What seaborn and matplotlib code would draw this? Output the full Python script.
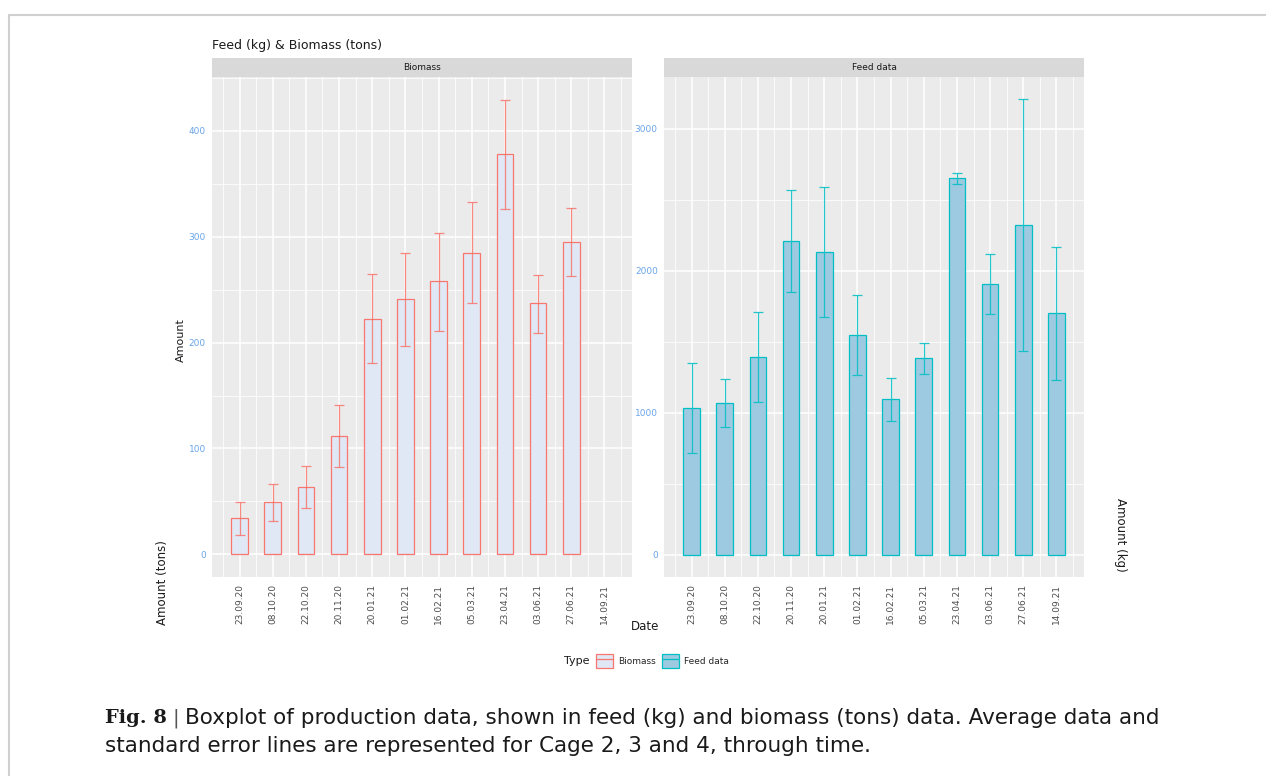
import numpy as np
import pandas as pd
import matplotlib
matplotlib.use("Agg")
import matplotlib.pyplot as plt
import seaborn as sns
from matplotlib.patches import Patch
from matplotlib.lines import Line2D
from matplotlib.legend_handler import HandlerTuple
from matplotlib.ticker import MultipleLocator, FixedLocator

# ---- data ----
dates = ["23.09.20", "08.10.20", "22.10.20", "20.11.20", "20.01.21", "01.02.21",
         "16.02.21", "05.03.21", "23.04.21", "03.06.21", "27.06.21", "14.09.21"]
biomass_mean = [34, 49, 63.5, 111.5, 222, 241, 258, 285, 378, 237, 295, np.nan]
biomass_low = [18, 31, 44, 82, 180.5, 197, 211, 237, 326.5, 209, 263, np.nan]
biomass_high = [49.5, 66.5, 83.5, 141.5, 265, 285, 304, 332.5, 429.5, 264, 327, np.nan]
feed_mean = [1035, 1066, 1394, 2210, 2134, 1547, 1094, 1383, 2653, 1906, 2321, 1700]
feed_low = [716, 897, 1077, 1851, 1677, 1263, 944, 1272, 2613, 1693, 1434, 1230]
feed_high = [1352, 1237, 1709, 2568, 2592, 1832, 1244, 1493, 2691, 2120, 3210, 2170]

sns.set_theme(style="white")
plt.rcParams["font.family"] = ["DejaVu Sans"]

W, H = 1266, 776
fig = plt.figure(figsize=(W / 100, H / 100), dpi=100)

def fx(px):
    return px / W

def fy(py):
    return 1 - py / H

PANEL_BG = "#ebebeb"
TICK_BLUE = "#6aa5ea"
RED = "#f8766d"
CYAN = "#00bfc4"
BIO_FILL = "#dfe8f4"
FEED_FILL = "#9ecae1"

def make_panel(left_px, title, means, lows, highs, fill, edge, ylim, major, minor):
    ax = fig.add_axes([fx(left_px), fy(577), fx(420), (577 - 77) / H])
    df = pd.DataFrame({"Date": dates, "Amount": means})
    sns.barplot(data=df, x="Date", y="Amount", order=dates, color=fill,
                saturation=1, width=0.5, edgecolor=edge, linewidth=0.9,
                errorbar=None, ax=ax, zorder=2)
    pos = np.arange(len(dates))
    m = np.array(means, dtype=float)
    lo = np.array(lows, dtype=float)
    hi = np.array(highs, dtype=float)
    ok = ~np.isnan(m)
    ax.errorbar(pos[ok], m[ok], yerr=[m[ok] - lo[ok], hi[ok] - m[ok]], fmt="none",
                ecolor=edge, elinewidth=0.9, capsize=3.5, capthick=0.9,
                alpha=0.85, zorder=3)
    ax.set_facecolor(PANEL_BG)
    for s in ax.spines.values():
        s.set_visible(False)
    ax.set_xlim(-0.83, len(dates) - 1 + 0.83)
    ax.set_ylim(*ylim)
    ax.yaxis.set_major_locator(MultipleLocator(major))
    ax.yaxis.set_minor_locator(MultipleLocator(minor))
    ax.xaxis.set_minor_locator(FixedLocator(np.arange(-0.5, len(dates), 1.0)))
    ax.grid(which="major", color="white", linewidth=1.1, zorder=0)
    ax.grid(which="minor", color="white", linewidth=0.55, zorder=0)
    ax.set_axisbelow(True)
    ax.tick_params(axis="both", which="major", length=3, width=0.7, color="#333333",
                   labelsize=6.5, pad=1.5)
    ax.tick_params(axis="both", which="minor", length=0)
    ax.tick_params(axis="y", labelcolor=TICK_BLUE)
    ax.tick_params(axis="x", labelcolor="#4d4d4d", labelrotation=90, pad=2)
    ax.set_xlabel("")
    ax.set_ylabel("")
    # strip
    strip = fig.add_axes([fx(left_px), fy(77), fx(420), 19 / H])
    strip.set_facecolor("#d9d9d9")
    strip.set_xticks([])
    strip.set_yticks([])
    for s in strip.spines.values():
        s.set_visible(False)
    strip.text(0.5, 0.5, title, ha="center", va="center", fontsize=6.5,
               color="#1a1a1a", transform=strip.transAxes)
    return ax

ax1 = make_panel(212, "Biomass", biomass_mean, biomass_low, biomass_high,
                 BIO_FILL, RED, (-21.5, 451), 100, 50)
ax2 = make_panel(664, "Feed data", feed_mean, feed_low, feed_high,
                 FEED_FILL, CYAN, (-157, 3364), 1000, 500)

# titles and labels
fig.text(fx(212), fy(45), "Feed (kg) & Biomass (tons)", fontsize=9, ha="left",
         va="center", color="#1a1a1a")
fig.text(fx(181), fy(340), "Amount", fontsize=8, rotation=90, ha="center",
         va="center", color="#1a1a1a")
fig.text(fx(163), fy(583), "Amount (tons)", fontsize=8.5, rotation=90, ha="center",
         va="center", color="#1a1a1a")
fig.text(fx(1121), fy(535), "Amount (kg)", fontsize=8.5, rotation=270, ha="center",
         va="center", color="#1a1a1a")
fig.text(fx(645), fy(627), "Date", fontsize=8.5, ha="center", va="center",
         color="#1a1a1a")

# legend
fig.text(fx(577), fy(661), "Type", fontsize=8, ha="center", va="center",
         color="#1a1a1a")
h_bio = (Patch(facecolor=BIO_FILL, edgecolor=RED, linewidth=0.9),
         Line2D([0], [0], color=RED, linewidth=0.9))
h_feed = (Patch(facecolor=FEED_FILL, edgecolor=CYAN, linewidth=0.9),
          Line2D([0], [0], color=CYAN, linewidth=0.9))
fig.legend([h_bio, h_feed], ["Biomass", "Feed data"],
           handler_map={tuple: HandlerTuple(ndivide=1, pad=0)},
           loc="center left", bbox_to_anchor=(fx(596), fy(661)), ncol=2,
           frameon=False, fontsize=6.5, handlelength=1.9, handleheight=1.9,
           handletextpad=0.6, columnspacing=0.6, borderpad=0, borderaxespad=0)

# frame lines
fig.add_artist(Line2D([fx(9), 1], [fy(15), fy(15)], color="#d0d0d0", linewidth=1.5))
fig.add_artist(Line2D([fx(9), fx(9)], [fy(15), 0], color="#d0d0d0", linewidth=1.5))

# caption
fig.text(fx(105), fy(718), "Fig. 8", fontsize=14, fontweight="bold",
         family="DejaVu Serif", ha="left", va="center", color="#1a1a1a")
fig.text(fx(176), fy(718), "|", fontsize=14, ha="center", va="center",
         color="#555555")
fig.text(fx(185), fy(718),
         "Boxplot of production data, shown in feed (kg) and biomass (tons) data. Average data and",
         fontsize=15.5, ha="left", va="center", color="#1a1a1a")
fig.text(fx(105), fy(746),
         "standard error lines are represented for Cage 2, 3 and 4, through time.",
         fontsize=15.5, ha="left", va="center", color="#1a1a1a")

fig.savefig("out.png", dpi=100)
